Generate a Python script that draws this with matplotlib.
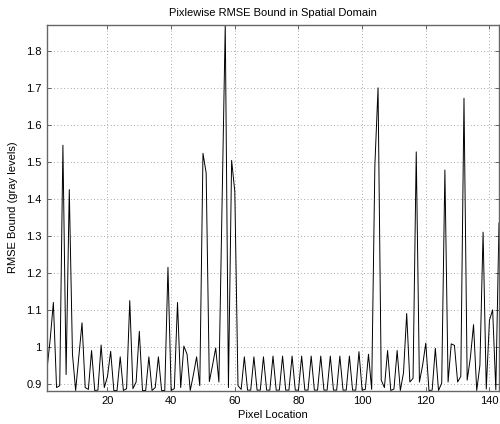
import numpy as np
import matplotlib
matplotlib.use('Agg')
import matplotlib.pyplot as plt

# Pixel location along the row (1..143)
pixel = np.arange(1, 144)

# RMSE bound in gray levels
rmse = [
    0.940, 1.020, 1.120, 0.890, 0.895, 1.545, 0.925, 1.425, 0.980, 0.882,   # 1-10
    0.975, 1.065, 0.890, 0.885, 0.990, 0.882, 0.883, 1.005, 0.890, 0.920,   # 11-20
    0.988, 0.882, 0.882, 0.973, 0.882, 0.887, 1.125, 0.887, 0.905, 1.042,   # 21-30
    0.882, 0.882, 0.973, 0.882, 0.890, 0.973, 0.882, 0.882, 1.215, 0.882,   # 31-40
    0.887, 1.120, 0.890, 1.002, 0.980, 0.882, 0.925, 0.973, 0.895, 1.523,   # 41-50
    1.470, 0.906, 0.950, 0.997, 0.905, 1.390, 1.871, 0.890, 1.504, 1.420,   # 51-60
    0.895, 0.885, 0.973, 0.883, 0.883, 0.973, 0.883, 0.883, 0.973, 0.883,   # 61-70
    0.883, 0.975, 0.883, 0.883, 0.975, 0.883, 0.883, 0.975, 0.883, 0.883,   # 71-80
    0.975, 0.883, 0.883, 0.975, 0.883, 0.883, 0.975, 0.883, 0.883, 0.975,   # 81-90
    0.883, 0.883, 0.975, 0.883, 0.883, 0.975, 0.883, 0.883, 0.987, 0.883,   # 91-100
    0.885, 0.980, 0.885, 1.490, 1.700, 0.910, 0.890, 0.990, 0.882, 0.886,   # 101-110
    0.990, 0.882, 0.930, 1.090, 0.905, 0.915, 1.527, 0.905, 0.950, 1.010,   # 111-120
    0.882, 0.883, 0.996, 0.882, 0.902, 1.478, 0.905, 1.008, 1.004, 0.905,   # 121-130
    0.920, 1.672, 0.910, 0.970, 1.060, 0.882, 0.950, 1.310, 0.886, 1.072,   # 131-140
    1.100, 0.884, 1.335,                                                    # 141-143
]

xticks = [20, 40, 60, 80, 100, 120, 140]
yticks = [0.9, 1.0, 1.1, 1.2, 1.3, 1.4, 1.5, 1.6, 1.7, 1.8]
ytick_labels = ['0.9', '1', '1.1', '1.2', '1.3', '1.4', '1.5', '1.6', '1.7', '1.8']

plt.rcParams['font.family'] = ['Liberation Sans', 'DejaVu Sans']

fig = plt.figure(figsize=(5.0, 4.24), dpi=100)
ax = fig.add_axes([0.094, 0.079, 0.904, 0.863])

ax.plot(pixel, rmse, color='black', linewidth=0.7)

ax.set_xlim(1, 143)
ax.set_ylim(min(rmse), max(rmse))
ax.set_xticks(xticks)
ax.set_yticks(yticks)
ax.set_yticklabels(ytick_labels)
ax.tick_params(direction='in', top=True, right=True, labelsize=8, length=3,
               width=0.6, color='0.3', pad=4)
ax.grid(True, linestyle=(0, (1, 3)), color='0.55', linewidth=0.6)
for s in ax.spines.values():
    s.set_color('0.4')
    s.set_linewidth(1.0)

ax.set_title('Pixlewise RMSE Bound in Spatial Domain', fontsize=8, pad=6)
ax.set_xlabel('Pixel Location', fontsize=8, labelpad=3)
ax.set_ylabel('RMSE Bound (gray levels)', fontsize=8, labelpad=6)

fig.savefig('out.png', dpi=100)
